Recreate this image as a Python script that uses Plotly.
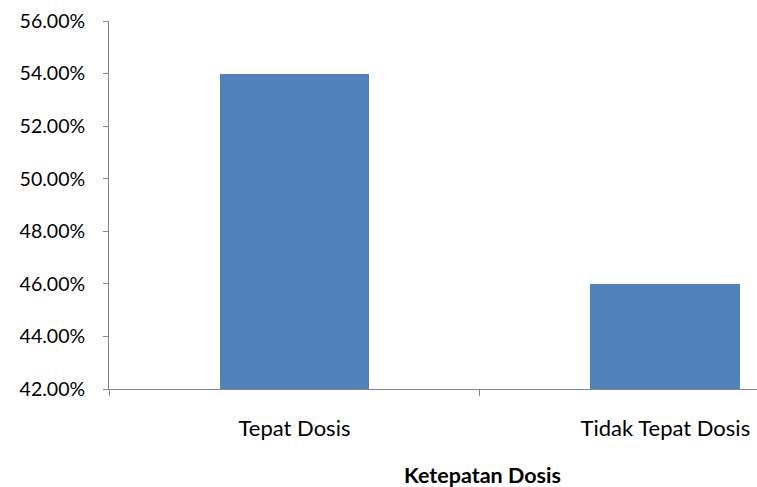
import plotly.graph_objects as go

categories = ["Tepat Dosis", "Tidak Tepat Dosis"]
values = [0.54, 0.46]
y_ticks = [0.42, 0.44, 0.46, 0.48, 0.50, 0.52, 0.54, 0.56]
y_tick_labels = ["42.00%", "44.00%", "46.00%", "48.00%", "50.00%", "52.00%", "54.00%", "56.00%"]
x_title = "Ketepatan Dosis"

fig = go.Figure(go.Bar(
    x=categories, y=values, width=0.404,
    marker=dict(color="#4F81BD", line=dict(width=0)),
))

font_family = "Lato, 'Open Sans', sans-serif"
fig.update_layout(
    width=757, height=487,
    margin=dict(l=109, r=0, t=21, b=98),
    plot_bgcolor="white", paper_bgcolor="white",
    showlegend=False,
    font=dict(family=font_family, size=19, color="#000000"),
    bargap=0,
)
fig.update_xaxes(
    range=[-0.5, 1.247],
    showline=True, linecolor="#868686", linewidth=1,
    ticks="outside", tickson="boundaries", ticklen=6, tickcolor="#868686",
    showgrid=False, zeroline=False,
    tickfont=dict(family=font_family, size=22),
    ticklabelstandoff=20,
)
fig.update_yaxes(
    range=[0.42, 0.56],
    tickvals=y_ticks, ticktext=y_tick_labels,
    showline=True, linecolor="#868686", linewidth=1,
    ticks="outside", ticklen=5, tickcolor="#868686",
    showgrid=False, zeroline=False,
    tickfont=dict(family=font_family, size=19.5),
    ticklabelstandoff=14,
)
fig.add_annotation(
    text="<b>" + x_title + "</b>", xref="paper", yref="paper",
    x=(482 - 109) / 648, y=-(475 - 389) / 368,
    showarrow=False, xanchor="center", yanchor="middle",
    font=dict(family=font_family, size=21.5, color="#000000"),
)
fig.write_html("out.html")
